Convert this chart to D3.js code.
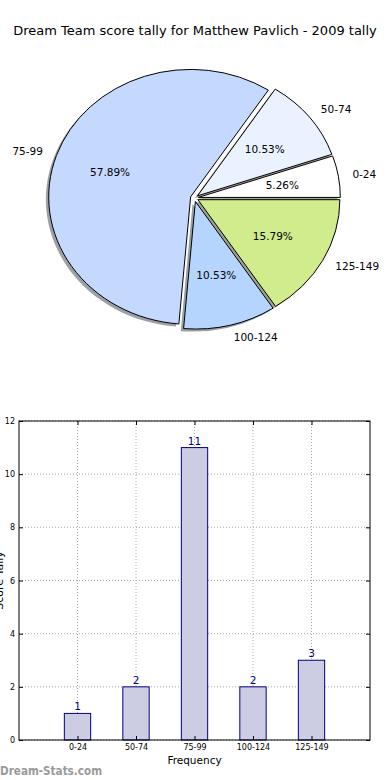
<!DOCTYPE html>
<html>
<head>
<meta charset="utf-8">
<script src="https://cdn.jsdelivr.net/npm/d3@7"></script>
<style>
  body { margin: 0; background: #fff; }
  svg { display: block; font-family: "DejaVu Sans", sans-serif; }
</style>
</head>
<body>
<svg id="chart" width="390" height="780"></svg>
<script>
// data
const categories = ["0-24", "50-74", "75-99", "100-124", "125-149"];
const counts = [1, 2, 11, 2, 3];
const pieColors = ["#ffffff", "#eaf2ff", "#c5d9ff", "#b5d5ff", "#d0ec8c"];
const yTicks = [0, 2, 4, 6, 8, 10, 12];

const titleText = "Dream Team score tally for Matthew Pavlich - 2009 tally";

const svg = d3.select("#chart");

// ---- title
svg.append("text")
  .attr("x", 195).attr("y", 35)
  .attr("text-anchor", "middle")
  .style("font-size", "13px")
  .style("fill", "#000")
  .text(titleText);

// ---- pie (matplotlib style, not equal aspect -> ellipse)
const cx = 194.4, cy = 198;
const rx = 142, ry = 127.5;
const explode = 0.028;

const total = d3.sum(counts);
const pieData = categories.map((c, i) => ({ cat: c, value: counts[i], color: pieColors[i] }));

// start at 3 o'clock, go counter-clockwise
const pie = d3.pie().value(d => d.value).sort(null)
  .startAngle(Math.PI / 2).endAngle(Math.PI / 2 - 2 * Math.PI);
const arcs = pie(pieData);
const unitArc = d3.arc().innerRadius(0).outerRadius(1);

arcs.forEach(a => {
  const mid = (a.startAngle + a.endAngle) / 2;
  a.dx = Math.sin(mid);
  a.dy = -Math.cos(mid);
  a.ox = cx + explode * a.dx * rx;
  a.oy = cy + explode * a.dy * ry;
});

const gPie = svg.append("g");

// shadows first (below every wedge)
gPie.selectAll(".shadow").data(arcs).enter()
  .append("path")
  .attr("class", "shadow")
  .attr("d", unitArc)
  .attr("transform", d => "translate(" + (d.ox - 0.02 * rx) + "," + (d.oy + 0.02 * ry) + ") scale(" + rx + "," + ry + ")")
  .style("fill", d => {
    const c = d3.rgb(d.data.color);
    return d3.rgb(c.r * 0.3, c.g * 0.3, c.b * 0.3).toString();
  })
  .style("opacity", 0.5);

gPie.selectAll(".wedge").data(arcs).enter()
  .append("path")
  .attr("class", "wedge")
  .attr("d", unitArc)
  .attr("transform", d => "translate(" + d.ox + "," + d.oy + ") scale(" + rx + "," + ry + ")")
  .style("fill", d => d.data.color)
  .style("stroke", "#000")
  .style("stroke-width", 1)
  .attr("vector-effect", "non-scaling-stroke");

// category labels at 1.1 r
gPie.selectAll(".plabel").data(arcs).enter()
  .append("text")
  .attr("class", "plabel")
  .attr("x", d => d.ox + 1.1 * d.dx * rx)
  .attr("y", d => d.oy + 1.1 * d.dy * ry)
  .attr("dy", "0.36em")
  .attr("text-anchor", d => d.dx > 0 ? "start" : "end")
  .style("font-size", "10.5px")
  .text(d => d.data.cat);

// percentages at 0.6 r
gPie.selectAll(".pct").data(arcs).enter()
  .append("text")
  .attr("class", "pct")
  .attr("x", d => d.ox + 0.6 * d.dx * rx)
  .attr("y", d => d.oy + 0.6 * d.dy * ry)
  .attr("dy", "0.36em")
  .attr("text-anchor", "middle")
  .style("font-size", "10.5px")
  .text(d => (d.data.value / total * 100).toFixed(2) + "%");

// ---- bar chart
const plotLeft = 19, plotRight = 370, plotTop = 421, plotBottom = 740;
const xScale = d3.scaleLinear().domain([-1, categories.length]).range([plotLeft, plotRight]);
const yScale = d3.scaleLinear().domain([0, 12]).range([plotBottom, plotTop]);
const barW = 0.45;

const gBar = svg.append("g");

// grid
gBar.selectAll(".ygrid").data(yTicks).enter()
  .append("line")
  .attr("x1", plotLeft).attr("x2", plotRight)
  .attr("y1", d => yScale(d)).attr("y2", d => yScale(d))
  .style("stroke", "#aaa").style("stroke-dasharray", "1,2");
gBar.selectAll(".xgrid").data(categories).enter()
  .append("line")
  .attr("x1", (d, i) => xScale(i)).attr("x2", (d, i) => xScale(i))
  .attr("y1", plotTop).attr("y2", plotBottom)
  .style("stroke", "#aaa").style("stroke-dasharray", "1,2");

// bars
gBar.selectAll(".bar").data(counts).enter()
  .append("rect")
  .attr("x", (d, i) => xScale(i - barW / 2))
  .attr("width", xScale(barW) - xScale(0))
  .attr("y", d => yScale(d))
  .attr("height", d => yScale(0) - yScale(d))
  .style("fill", "#ccccE3")
  .style("stroke", "#000080")
  .style("stroke-width", 1);

// value labels
gBar.selectAll(".val").data(counts).enter()
  .append("text")
  .attr("x", (d, i) => xScale(i))
  .attr("y", d => yScale(d) - 3)
  .attr("text-anchor", "middle")
  .style("font-size", "10.5px")
  .style("fill", "#000080")
  .text(d => d);

// axes
const yAxis = d3.axisLeft(yScale).tickValues(yTicks).tickSizeInner(-4).tickSizeOuter(0).tickPadding(4);
const gy = gBar.append("g").attr("transform", "translate(" + plotLeft + ",0)").call(yAxis);
gy.select(".domain").remove();
gy.selectAll("text").style("font-size", "8px").style("font-family", "DejaVu Sans");

const yAxisR = d3.axisRight(yScale).tickValues(yTicks).tickSizeInner(-4).tickSizeOuter(0).tickFormat("");
const gyr = gBar.append("g").attr("transform", "translate(" + plotRight + ",0)").call(yAxisR);
gyr.select(".domain").remove();

const xAxis = d3.axisBottom(xScale).tickValues(d3.range(categories.length))
  .tickFormat(i => categories[i]).tickSizeInner(-4).tickSizeOuter(0).tickPadding(4);
const gx = gBar.append("g").attr("transform", "translate(0," + plotBottom + ")").call(xAxis);
gx.select(".domain").remove();
gx.selectAll("text").style("font-size", "8px").style("font-family", "DejaVu Sans");

const xAxisT = d3.axisTop(xScale).tickValues(d3.range(categories.length))
  .tickSizeInner(-4).tickSizeOuter(0).tickFormat("");
const gxt = gBar.append("g").attr("transform", "translate(0," + plotTop + ")").call(xAxisT);
gxt.select(".domain").remove();

// frame
gBar.append("rect")
  .attr("x", plotLeft).attr("y", plotTop)
  .attr("width", plotRight - plotLeft).attr("height", plotBottom - plotTop)
  .style("fill", "none").style("stroke", "#000").style("stroke-width", 1);

// axis labels
gBar.append("text")
  .attr("x", xScale(2)).attr("y", 764)
  .attr("text-anchor", "middle")
  .style("font-size", "10.5px")
  .text("Frequency");

// y label sits mostly off the left edge, as in the original image
gBar.append("text")
  .attr("transform", "translate(3," + ((plotTop + plotBottom) / 2) + ") rotate(-90)")
  .attr("text-anchor", "middle")
  .style("font-size", "11px")
  .text("Score Tally");

// watermark
svg.append("text")
  .attr("x", 0).attr("y", 775)
  .attr("textLength", 102)
  .attr("lengthAdjust", "spacingAndGlyphs")
  .style("font-size", "12px")
  .style("fill", "#9a9a9a")
  .style("font-weight", "bold")
  .style("font-family", "'DejaVu Sans Condensed', 'DejaVu Sans', sans-serif")
  .text("Dream-Stats.com");
</script>
</body>
</html>
